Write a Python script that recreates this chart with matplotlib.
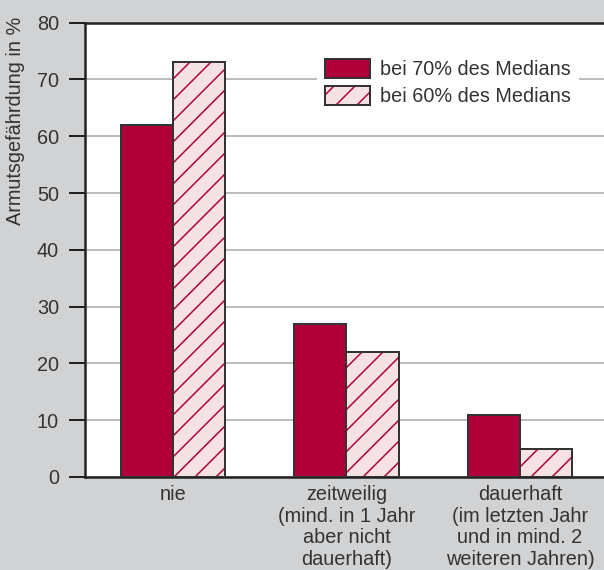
import matplotlib.pyplot as plt
import numpy as np

DPI = 126  # hatch spacing scales with dpi; 126 gives the ~21px stripe pitch


def px(p):
    """Pixel size -> points at the chosen dpi."""
    return p * 72.0 / DPI


plt.rcParams["font.family"] = ["Liberation Sans", "DejaVu Sans"]
plt.rcParams["hatch.linewidth"] = px(1.5)

categories = [
    "nie",
    "zeitweilig\n(mind. in 1 Jahr\naber nicht\ndauerhaft)",
    "dauerhaft\n(im letzten Jahr\nund in mind. 2\nweiteren Jahren)",
]
median70 = [62, 27, 11]
median60 = [73, 22, 5]
series_labels = ["bei 70% des Medians", "bei 60% des Medians"]

BG = "#d1d2d4"
RED = "#b0003a"
PINK = "#f6e2e2"
EDGE = "#333333"
TEXT = "#333333"
FS = px(19.9)

fig = plt.figure(figsize=(604 / DPI, 570 / DPI), dpi=DPI, facecolor=BG)
ax = fig.add_axes([85 / 604, 93 / 570, 519 / 604, 454.3 / 570])

x = np.arange(len(categories))
w = 0.30

b1 = ax.bar(x - w / 2, median70, w, color=RED, edgecolor=EDGE, linewidth=px(2), zorder=3)
b2h = ax.bar(x + w / 2, median60, w, color=PINK, edgecolor=RED, linewidth=0,
             hatch="//", zorder=3)
b2e = ax.bar(x + w / 2, median60, w, fill=False, edgecolor=EDGE, linewidth=px(2), zorder=4)

ax.set_xlim(-0.507, 2.484)
ax.set_ylim(0, 80)
ax.set_yticks(range(0, 81, 10))
ax.set_xticks(x)
ax.set_xticklabels(categories, fontsize=FS, color=TEXT, linespacing=1.17)
ax.tick_params(axis="x", length=0, pad=px(8))
ax.tick_params(axis="y", length=px(16), width=px(2), color="#222222", labelsize=FS,
               labelcolor=TEXT, pad=px(10))
ax.yaxis.grid(True, color="#adadad", linewidth=px(1.6), zorder=0)
ax.set_axisbelow(True)

for side in ["left", "top", "bottom"]:
    ax.spines[side].set_linewidth(px(2.5))
    ax.spines[side].set_color("#222222")
ax.spines["right"].set_visible(False)

fig.text(16 / 604, (570 - 121) / 570, "Armutsgefährdung in %", rotation=90,
         ha="center", va="center", fontsize=FS, color=TEXT)

leg = ax.legend([b1[0], (b2h[0], b2e[0])], series_labels,
                loc="upper left", bbox_to_anchor=(0.447, 0.938),
                fontsize=FS, frameon=True, facecolor="white", edgecolor="white",
                framealpha=1, fancybox=False, handlelength=2.27, handleheight=1.1,
                handletextpad=0.5, labelspacing=0.33, borderpad=0.4,
                borderaxespad=0)
leg.get_frame().set_linewidth(0)
for t in leg.get_texts():
    t.set_color(TEXT)

fig.savefig("out.png", dpi=DPI, facecolor=BG)
